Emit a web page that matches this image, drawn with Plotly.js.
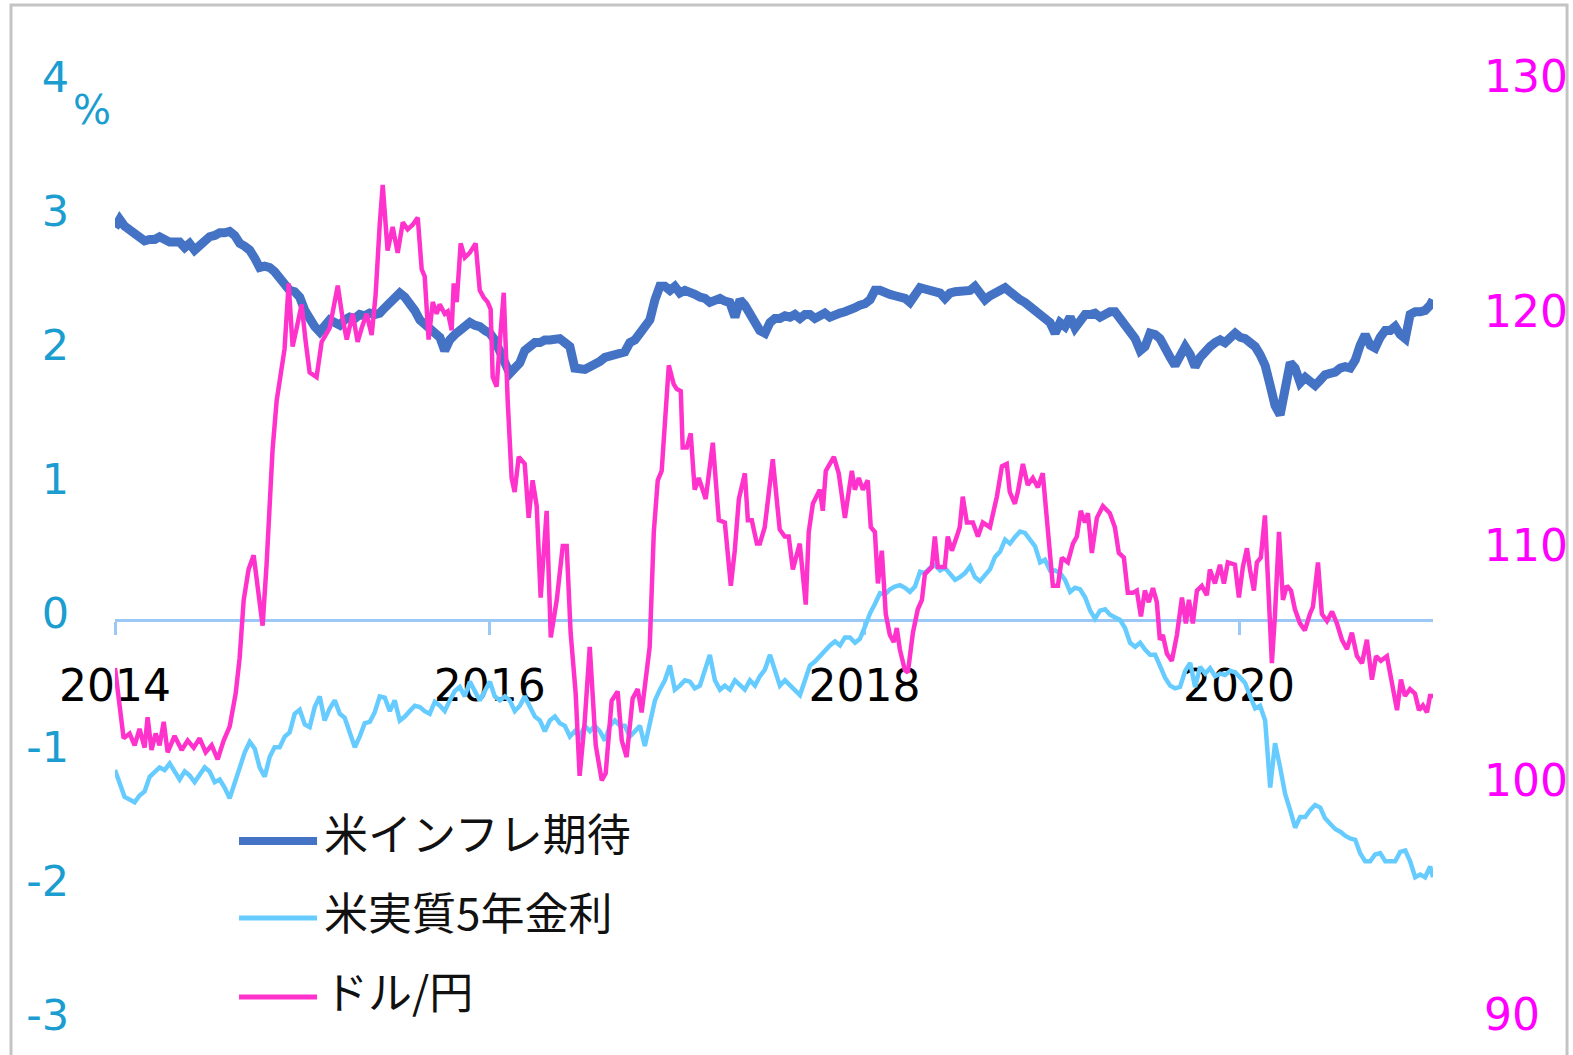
<!DOCTYPE html>
<html><head><meta charset="utf-8">
<script src="https://cdn.plot.ly/plotly-3.0.1.min.js"></script>
<style>html,body{margin:0;padding:0;background:#fff;}#chart{width:1573px;height:1055px;}</style>
</head><body><div id="chart"></div>
<script>
const seriesNames = ['米インフレ期待', '米実質5年金利', 'ドル/円'];
const seriesColors = ['#4472c4', '#66ccff', '#ff33cc'];
const xTickVals = [2014, 2016, 2018, 2020];
const xTickText = ['2014', '2016', '2018', '2020'];
const leftTickVals = [-3, -2, -1, 0, 1, 2, 3, 4];
const leftTickText = ['-3', '-2', '-1', '0', '1', '2', '3', '4'];
const rightTickVals = [90, 100, 110, 120, 130];
const rightTickText = ['90', '100', '110', '120', '130'];
const leftUnit = '%';

// time (decimal year) for the two rate series
const tWeekly = [
2014.000,2014.025,2014.051,2014.078,2014.105,2014.131,2014.158,2014.185,2014.212,2014.238,
2014.265,2014.292,2014.318,2014.345,2014.372,2014.398,2014.425,2014.452,2014.479,2014.505,
2014.532,2014.559,2014.585,2014.612,2014.639,2014.666,2014.692,2014.719,2014.746,2014.772,
2014.799,2014.826,2014.852,2014.879,2014.906,2014.932,2014.959,2014.986,2015.013,2015.039,
2015.066,2015.093,2015.119,2015.146,2015.173,2015.200,2015.226,2015.253,2015.280,2015.306,
2015.333,2015.360,2015.386,2015.413,2015.440,2015.467,2015.493,2015.520,2015.547,2015.573,
2015.600,2015.627,2015.653,2015.680,2015.707,2015.734,2015.760,2015.787,2015.814,2015.840,
2015.867,2015.894,2015.920,2015.947,2015.974,2016.001,2016.027,2016.054,2016.081,2016.107,
2016.134,2016.161,2016.187,2016.214,2016.241,2016.268,2016.294,2016.321,2016.348,2016.374,
2016.401,2016.428,2016.454,2016.481,2016.508,2016.535,2016.561,2016.588,2016.615,2016.641,
2016.668,2016.695,2016.721,2016.748,2016.775,2016.802,2016.828,2016.855,2016.882,2016.908,
2016.935,2016.962,2016.988,2017.015,2017.042,2017.069,2017.095,2017.122,2017.149,2017.175,
2017.202,2017.229,2017.255,2017.282,2017.309,2017.336,2017.362,2017.389,2017.416,2017.442,
2017.469,2017.496,2017.522,2017.549,2017.576,2017.603,2017.629,2017.656,2017.683,2017.709,
2017.736,2017.763,2017.789,2017.816,2017.843,2017.870,2017.896,2017.923,2017.950,2017.976,
2018.003,2018.030,2018.056,2018.083,2018.110,2018.137,2018.163,2018.190,2018.217,2018.243,
2018.270,2018.297,2018.323,2018.350,2018.377,2018.404,2018.430,2018.457,2018.484,2018.510,
2018.537,2018.564,2018.590,2018.617,2018.644,2018.671,2018.697,2018.724,2018.751,2018.777,
2018.804,2018.831,2018.857,2018.884,2018.911,2018.938,2018.964,2018.991,2019.018,2019.044,
2019.071,2019.098,2019.124,2019.151,2019.178,2019.205,2019.231,2019.258,2019.285,2019.311,
2019.338,2019.365,2019.391,2019.418,2019.445,2019.472,2019.498,2019.525,2019.552,2019.578,
2019.605,2019.632,2019.658,2019.685,2019.712,2019.739,2019.765,2019.792,2019.819,2019.845,
2019.872,2019.899,2019.925,2019.952,2019.979,2020.006,2020.032,2020.059,2020.086,2020.112,
2020.139,2020.166,2020.192,2020.219,2020.246,2020.273,2020.299,2020.326,2020.353,2020.379,
2020.406,2020.433,2020.459,2020.486,2020.513,2020.540,2020.566,2020.593,2020.620,2020.646,
2020.673,2020.700,2020.726,2020.753,2020.780,2020.807,2020.833,2020.860,2020.887,2020.913,
2020.940,2020.967,2020.993,2021.020,2021.035];

// 米インフレ期待 (%)
const inflation = [
2.93,2.99,2.94,2.91,2.87,2.86,2.83,2.84,2.84,2.86,
2.84,2.82,2.82,2.82,2.78,2.81,2.76,2.80,2.83,2.86,
2.87,2.89,2.89,2.90,2.87,2.81,2.79,2.76,2.70,2.63,
2.64,2.63,2.60,2.55,2.52,2.46,2.45,2.41,2.31,2.24,
2.19,2.15,2.20,2.24,2.22,2.20,2.24,2.26,2.25,2.28,
2.27,2.29,2.28,2.29,2.33,2.37,2.41,2.44,2.41,2.37,
2.31,2.24,2.21,2.19,2.15,2.11,2.01,2.09,2.13,2.16,
2.19,2.22,2.20,2.19,2.16,2.14,2.09,2.01,1.93,1.84,
1.88,1.92,2.01,2.05,2.07,2.07,2.09,2.09,2.10,2.10,
2.07,2.04,1.88,1.87,1.87,1.89,1.92,1.93,1.96,1.97,
1.98,1.99,2.00,2.07,2.09,2.14,2.19,2.24,2.39,2.49,
2.49,2.46,2.49,2.44,2.46,2.45,2.43,2.41,2.40,2.37,
2.39,2.40,2.38,2.37,2.26,2.39,2.35,2.29,2.24,2.16,
2.14,2.22,2.25,2.25,2.27,2.26,2.28,2.25,2.28,2.28,
2.25,2.28,2.29,2.26,2.28,2.29,2.30,2.31,2.33,2.35,
2.36,2.39,2.46,2.46,2.44,2.43,2.42,2.41,2.40,2.37,
2.43,2.48,2.47,2.46,2.45,2.44,2.40,2.44,2.45,2.45,
2.46,2.46,2.49,2.45,2.39,2.42,2.44,2.46,2.48,2.45,
2.41,2.39,2.37,2.34,2.31,2.29,2.26,2.22,2.14,2.22,
2.19,2.26,2.18,2.24,2.28,2.28,2.29,2.26,2.28,2.30,
2.30,2.25,2.18,2.14,2.10,2.01,2.04,2.14,2.13,2.10,
2.01,1.96,1.90,1.96,2.04,1.98,1.89,1.96,2.01,2.04,
2.07,2.09,2.07,2.10,2.14,2.11,2.10,2.07,2.04,1.98,
1.90,1.75,1.60,1.53,1.70,1.92,1.88,1.77,1.81,1.78,
1.75,1.79,1.83,1.84,1.85,1.88,1.89,1.88,1.94,2.05,
2.13,2.05,2.03,2.11,2.16,2.16,2.19,2.13,2.10,2.28,
2.30,2.30,2.31,2.35,2.39];

// 米実質5年金利 (%)
const realRate5y = [
-1.12,-1.23,-1.32,-1.34,-1.36,-1.31,-1.28,-1.17,-1.13,-1.10,
-1.12,-1.07,-1.13,-1.19,-1.13,-1.16,-1.21,-1.15,-1.10,-1.13,
-1.21,-1.19,-1.25,-1.33,-1.21,-1.08,-0.99,-0.91,-0.96,-1.10,
-1.17,-1.02,-0.95,-0.95,-0.87,-0.84,-0.70,-0.67,-0.78,-0.80,
-0.65,-0.57,-0.75,-0.66,-0.60,-0.70,-0.73,-0.84,-0.95,-0.87,
-0.77,-0.76,-0.69,-0.57,-0.58,-0.68,-0.60,-0.75,-0.72,-0.68,
-0.64,-0.65,-0.68,-0.70,-0.61,-0.64,-0.68,-0.60,-0.53,-0.50,
-0.57,-0.46,-0.53,-0.60,-0.53,-0.46,-0.57,-0.60,-0.57,-0.60,
-0.68,-0.64,-0.57,-0.64,-0.72,-0.75,-0.83,-0.75,-0.72,-0.77,
-0.79,-0.87,-0.83,-0.87,-0.79,-0.83,-0.79,-0.83,-0.90,-0.79,
-0.75,-0.79,-0.79,-0.87,-0.83,-0.79,-0.94,-0.75,-0.60,-0.52,
-0.45,-0.34,-0.52,-0.49,-0.45,-0.46,-0.51,-0.49,-0.37,-0.26,
-0.45,-0.52,-0.49,-0.52,-0.45,-0.49,-0.52,-0.45,-0.49,-0.42,
-0.37,-0.26,-0.37,-0.49,-0.45,-0.49,-0.52,-0.56,-0.45,-0.34,
-0.31,-0.27,-0.22,-0.19,-0.16,-0.19,-0.13,-0.13,-0.17,-0.14,
-0.05,0.05,0.12,0.20,0.19,0.23,0.25,0.26,0.24,0.21,
0.25,0.36,0.35,0.39,0.41,0.37,0.39,0.34,0.30,0.32,
0.35,0.40,0.32,0.29,0.34,0.38,0.47,0.51,0.60,0.57,
0.62,0.66,0.65,0.60,0.55,0.43,0.45,0.37,0.37,0.35,
0.30,0.21,0.24,0.23,0.17,0.07,0.01,0.07,0.08,0.04,
0.02,0.00,-0.06,-0.17,-0.20,-0.17,-0.22,-0.26,-0.26,-0.35,
-0.43,-0.49,-0.51,-0.50,-0.38,-0.32,-0.50,-0.35,-0.40,-0.36,
-0.42,-0.40,-0.41,-0.38,-0.39,-0.43,-0.47,-0.57,-0.66,-0.64,
-0.75,-1.25,-0.92,-1.10,-1.30,-1.42,-1.55,-1.47,-1.47,-1.42,
-1.38,-1.40,-1.48,-1.52,-1.56,-1.58,-1.61,-1.63,-1.64,-1.74,
-1.80,-1.80,-1.75,-1.74,-1.80,-1.80,-1.80,-1.73,-1.72,-1.80,
-1.92,-1.90,-1.92,-1.84,-1.92];

// time (decimal year) for the exchange-rate series
const tFx = [
2014.000,2014.025,2014.046,2014.078,2014.105,2014.131,2014.158,2014.174,2014.195,2014.217,
2014.238,2014.260,2014.281,2014.318,2014.356,2014.388,2014.420,2014.452,2014.484,2014.516,
2014.548,2014.580,2014.612,2014.644,2014.665,2014.687,2014.713,2014.740,2014.761,2014.788,
2014.809,2014.825,2014.841,2014.863,2014.889,2014.905,2014.927,2014.948,2014.970,2014.996,
2015.018,2015.039,2015.076,2015.103,2015.146,2015.167,2015.189,2015.215,2015.237,2015.269,
2015.295,2015.317,2015.343,2015.370,2015.391,2015.413,2015.429,2015.455,2015.482,2015.509,
2015.536,2015.562,2015.589,2015.616,2015.637,2015.653,2015.674,2015.696,2015.717,2015.733,
2015.760,2015.776,2015.797,2015.808,2015.824,2015.845,2015.867,2015.893,2015.925,2015.947,
2015.968,2015.989,2016.005,2016.016,2016.037,2016.059,2016.075,2016.096,2016.117,2016.133,
2016.155,2016.187,2016.208,2016.229,2016.251,2016.272,2016.288,2016.304,2016.326,2016.358,
2016.390,2016.411,2016.432,2016.459,2016.480,2016.507,2016.534,2016.566,2016.598,2016.619,
2016.651,2016.683,2016.705,2016.731,2016.763,2016.790,2016.811,2016.833,2016.854,2016.876,
2016.897,2016.918,2016.940,2016.956,2016.982,2016.998,2017.020,2017.030,2017.052,2017.073,
2017.094,2017.116,2017.153,2017.191,2017.223,2017.255,2017.287,2017.308,2017.330,2017.362,
2017.378,2017.399,2017.426,2017.442,2017.468,2017.511,2017.548,2017.575,2017.596,2017.618,
2017.655,2017.687,2017.703,2017.725,2017.762,2017.778,2017.794,2017.837,2017.863,2017.896,
2017.933,2017.949,2017.970,2017.992,2018.018,2018.034,2018.056,2018.072,2018.093,2018.114,
2018.136,2018.157,2018.173,2018.189,2018.216,2018.232,2018.259,2018.285,2018.307,2018.323,
2018.360,2018.376,2018.392,2018.429,2018.445,2018.467,2018.493,2018.509,2018.525,2018.547,
2018.579,2018.606,2018.632,2018.670,2018.707,2018.734,2018.760,2018.776,2018.803,2018.819,
2018.846,2018.872,2018.899,2018.926,2018.952,2018.974,2018.990,2019.006,2019.033,2019.054,
2019.086,2019.113,2019.134,2019.155,2019.177,2019.193,2019.214,2019.241,2019.273,2019.310,
2019.337,2019.358,2019.385,2019.406,2019.433,2019.454,2019.476,2019.497,2019.518,2019.540,
2019.561,2019.577,2019.593,2019.615,2019.641,2019.668,2019.695,2019.716,2019.732,2019.753,
2019.775,2019.801,2019.828,2019.844,2019.871,2019.898,2019.919,2019.940,2019.978,2019.999,
2020.020,2020.042,2020.058,2020.079,2020.095,2020.116,2020.138,2020.154,2020.175,2020.191,
2020.213,2020.234,2020.255,2020.277,2020.298,2020.325,2020.351,2020.378,2020.394,2020.421,
2020.442,2020.469,2020.496,2020.522,2020.549,2020.576,2020.602,2020.629,2020.656,2020.682,
2020.709,2020.731,2020.757,2020.789,2020.811,2020.843,2020.864,2020.885,2020.912,2020.939,
2020.960,2020.981,2021.003,2021.019,2021.035];

// ドル/円
const usdJpy = [
105.1,103.5,102.1,102.3,101.8,102.5,101.7,103.0,101.6,102.3,
101.8,102.8,101.5,102.2,101.6,102.0,101.7,102.1,101.5,101.8,
101.2,102.0,102.6,104.0,105.5,108.0,109.3,109.9,108.5,106.9,
109.5,112.0,114.4,116.5,117.9,118.7,121.5,118.8,119.6,120.6,
119.0,117.7,117.5,119.0,119.6,120.4,121.4,120.0,119.1,120.2,
119.0,119.6,120.2,119.3,121.0,124.0,125.7,122.9,123.9,122.8,
124.1,123.8,124.0,124.3,122.1,121.8,119.1,120.7,120.2,120.6,
120.2,120.3,119.5,121.5,120.7,123.2,122.6,122.8,123.2,121.2,
120.9,120.7,120.4,117.5,117.1,119.5,121.1,116.5,113.2,112.6,
114.1,113.8,111.5,113.1,112.0,108.1,110.0,111.8,106.4,108.0,
110.3,110.3,106.6,104.0,100.5,102.8,106.0,101.8,100.3,100.6,
103.7,104.1,102.0,101.3,103.8,104.2,103.2,104.5,106.0,110.9,
113.1,113.5,116.5,118.0,117.2,117.0,116.9,114.5,114.5,115.1,
112.7,113.2,112.3,114.7,111.4,111.3,108.6,110.1,112.3,113.4,
111.4,111.4,110.4,110.4,111.1,114.0,111.0,110.7,110.7,109.3,
110.4,107.8,110.9,112.1,112.7,111.8,113.5,114.1,113.4,111.5,
113.5,112.7,113.2,112.7,113.1,111.1,110.9,108.7,110.1,107.4,
106.5,106.2,106.8,105.9,105.0,104.9,106.6,107.6,108.0,109.1,
109.4,110.7,109.4,109.4,110.7,110.1,110.7,111.1,112.4,111.3,
111.3,110.7,111.3,111.1,112.4,113.7,113.8,112.6,112.1,112.6,
113.8,112.9,113.2,112.8,113.4,111.3,110.1,108.6,108.6,109.8,
109.6,110.4,110.7,111.8,111.3,111.7,110.0,111.5,112.0,111.7,
111.1,110.0,109.8,108.3,108.3,108.4,107.3,108.4,107.9,108.5,
107.9,106.3,106.5,105.7,105.4,106.5,108.1,107.0,108.0,107.0,
108.4,108.6,108.2,109.3,108.7,109.5,108.7,109.6,109.5,108.1,
109.4,110.2,109.3,108.4,109.6,109.8,111.6,108.8,105.3,107.3,
110.9,108.0,108.6,108.4,107.6,107.0,106.7,107.4,107.7,109.6,
107.4,107.1,107.5,107.0,106.3,105.9,106.6,105.6,105.3,106.3,
104.6,105.6,105.4,105.6,104.7,103.3,104.6,103.9,104.2,104.0,
103.3,103.5,103.2,103.9,103.9];

const CJK = '"Noto Sans CJK JP", "Noto Sans", sans-serif';
const NUM = '"DejaVu Sans", Verdana, sans-serif';
const leftColor = '#1b9dd0';
const rightColor = '#ff00ff';
const axisLineColor = '#9cc8f5';

const traces = [
  {x: tWeekly, y: inflation, name: seriesNames[0], type: 'scatter', mode: 'lines',
   line: {color: seriesColors[0], width: 9}, yaxis: 'y'},
  {x: tWeekly, y: realRate5y, name: seriesNames[1], type: 'scatter', mode: 'lines',
   line: {color: seriesColors[1], width: 4.5}, yaxis: 'y'},
  {x: tFx, y: usdJpy, name: seriesNames[2], type: 'scatter', mode: 'lines',
   line: {color: seriesColors[2], width: 4.5}, yaxis: 'y2'}
];

// legend (drawn as shapes + annotations so the sample lines match the original length)
const legendRowsY = [0.2026, 0.1183, 0.0341];
const legendLineY = [0.1930, 0.1109, 0.0267];
const legendLineW = [8, 5, 5];
const shapes = [
  {type: 'rect', xref: 'paper', yref: 'paper', x0: -0.0789, x1: 1.1017, y0: -0.05, y1: 1.0842,
   line: {color: '#c4c4c4', width: 3}, fillcolor: 'rgba(0,0,0,0)', layer: 'below'}
];
const annotations = [
  {text: leftUnit, xref: 'paper', yref: 'paper', x: -0.0175, y: 0.9723, xanchor: 'center', yanchor: 'middle',
   showarrow: false, font: {family: NUM, size: 40, color: leftColor}}
];
seriesNames.forEach((n, i) => {
  shapes.push({type: 'line', xref: 'paper', yref: 'paper', x0: 0.0941, x1: 0.1533,
    y0: legendLineY[i], y1: legendLineY[i], line: {color: seriesColors[i], width: legendLineW[i]}});
  annotations.push({text: n, xref: 'paper', yref: 'paper', x: 0.1571, y: legendRowsY[i],
    xanchor: 'left', yanchor: 'middle', showarrow: false, font: {family: CJK, size: 44, color: '#111'}});
});

const layout = {
  width: 1573, height: 1055,
  margin: {l: 115, r: 140, t: 84, b: 33, pad: 0},
  paper_bgcolor: '#ffffff', plot_bgcolor: 'rgba(0,0,0,0)',
  showlegend: false, hovermode: false,
  xaxis: {
    type: 'linear', range: [2014, 2021.035], anchor: 'free', position: 3/7,
    showgrid: false, zeroline: false, showline: true, linecolor: axisLineColor, linewidth: 3,
    ticks: 'outside', ticklen: 13, tickwidth: 3, tickcolor: axisLineColor,
    tickvals: xTickVals, ticktext: xTickText,
    tickfont: {family: NUM, size: 44, color: '#000'}, ticklabelstandoff: 13,
    layer: 'below traces'
  },
  yaxis: {
    range: [-3, 4], tickvals: leftTickVals, ticktext: leftTickText,
    showgrid: false, zeroline: false, showline: false,
    ticks: '', tickfont: {family: NUM, size: 43, color: leftColor},
    ticklabelstandoff: 45, ticklabelshift: -7
  },
  yaxis2: {
    overlaying: 'y', side: 'right', range: [90, 130], tickvals: rightTickVals, ticktext: rightTickText,
    showgrid: false, zeroline: false, showline: false, ticks: '',
    tickfont: {family: NUM, size: 44, color: rightColor},
    ticklabelstandoff: 50, ticklabelshift: -7
  },
  shapes: shapes,
  annotations: annotations
};

Plotly.newPlot('chart', traces, layout, {staticPlot: true, displayModeBar: false});
</script>
</body></html>
